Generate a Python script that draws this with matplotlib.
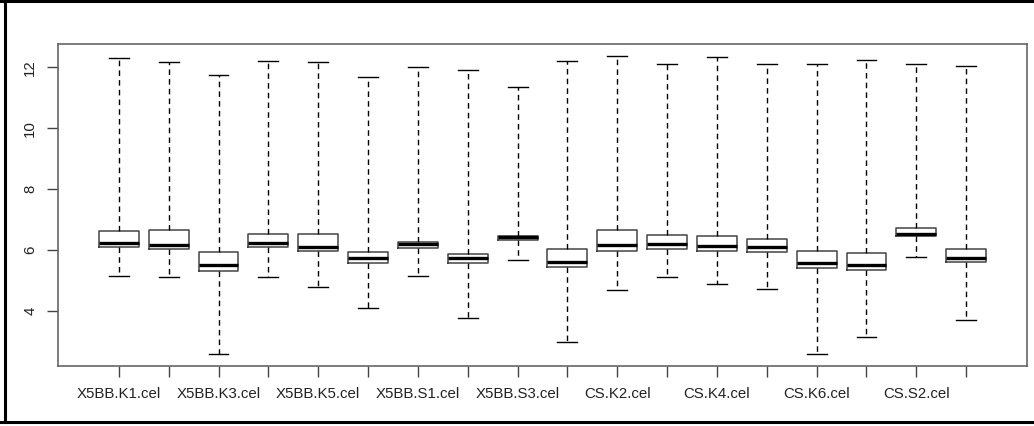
import matplotlib
matplotlib.use("Agg")
import matplotlib.pyplot as plt
from matplotlib.lines import Line2D

plt.rcParams['font.family'] = ['Liberation Sans', 'DejaVu Sans']

# sample names (R boxplot order)
names = ["X5BB.K1.cel", "X5BB.K2.cel", "X5BB.K3.cel", "X5BB.K4.cel", "X5BB.K5.cel", "X5BB.K6.cel",
         "X5BB.S1.cel", "X5BB.S2.cel", "X5BB.S3.cel",
         "CS.K1.cel", "CS.K2.cel", "CS.K3.cel", "CS.K4.cel", "CS.K5.cel", "CS.K6.cel",
         "CS.S1.cel", "CS.S2.cel", "CS.S3.cel"]

# values
whisk_lo = [5.15, 5.12, 2.58, 5.12, 4.79, 4.09, 5.15, 3.78, 5.67,
            2.98, 4.68, 5.12, 4.89, 4.73, 2.58, 3.15, 5.78, 3.70]
q1 = [6.11, 6.04, 5.30, 6.11, 5.95, 5.58, 6.07, 5.58, 6.32,
      5.45, 5.96, 6.04, 5.96, 5.93, 5.39, 5.34, 6.45, 5.60]
med = [6.24, 6.17, 5.49, 6.23, 6.08, 5.73, 6.18, 5.73, 6.41,
       5.61, 6.15, 6.18, 6.12, 6.08, 5.58, 5.52, 6.53, 5.75]
q3 = [6.62, 6.65, 5.94, 6.53, 6.53, 5.94, 6.27, 5.88, 6.47,
      6.02, 6.65, 6.50, 6.47, 6.35, 5.96, 5.91, 6.71, 6.03]
whisk_hi = [12.30, 12.17, 11.75, 12.22, 12.17, 11.67, 12.02, 11.90, 11.36,
            12.20, 12.38, 12.12, 12.35, 12.09, 12.09, 12.23, 12.09, 12.05]

stats = []
for i in range(len(names)):
    stats.append(dict(whislo=whisk_lo[i], q1=q1[i], med=med[i], q3=q3[i],
                      whishi=whisk_hi[i], fliers=[], label=names[i]))

fig = plt.figure(figsize=(10.34, 4.26), dpi=100)
ax = fig.add_axes([58/1034, 60/426, 969/1034, 322.3/426])

ax.bxp(stats, positions=range(1, len(names) + 1), widths=0.8, showfliers=False,
       boxprops=dict(color="#444444", linewidth=1.1),
       medianprops=dict(color="black", linewidth=2.4, solid_capstyle="butt"),
       whiskerprops=dict(color="black", linewidth=1, linestyle=(0, (4, 3))),
       capprops=dict(color="black", linewidth=1),
       capwidths=0.4)

n = len(names)
ax.set_xlim(0.5 - 0.04 * n, n + 0.5 + 0.04 * n)
lo, hi = min(whisk_lo), max(whisk_hi)
pad = 0.04 * (hi - lo)
ax.set_ylim(lo - pad, hi + pad)

ax.set_xticks(range(1, n + 1))
ax.set_xticklabels([nm if i % 2 == 0 else "" for i, nm in enumerate(names)],
                   fontsize=10.8, color="#222222")
ax.set_yticks([4, 6, 8, 10, 12])
ax.set_yticklabels(["4", "6", "8", "10", "12"], rotation=90, va="center",
                   fontsize=10.8, color="#222222")
ax.tick_params(axis="both", length=8, width=1, color="#444444")
ax.tick_params(axis="x", pad=7)
ax.tick_params(axis="y", pad=7)
for side in ["left", "bottom", "right", "top"]:
    ax.spines[side].set_color("#666666")
    ax.spines[side].set_linewidth(1.2)

# outer frame of the screenshot
fig.add_artist(Line2D([0, 1], [1 - 1/426, 1 - 1/426], color="black", lw=2.2, transform=fig.transFigure))
fig.add_artist(Line2D([0, 1], [4.5/426, 4.5/426], color="black", lw=2.2, transform=fig.transFigure))
fig.add_artist(Line2D([5/1034, 5/1034], [4.5/426, 1], color="black", lw=2.2, transform=fig.transFigure))

fig.savefig("out.png", dpi=100)
